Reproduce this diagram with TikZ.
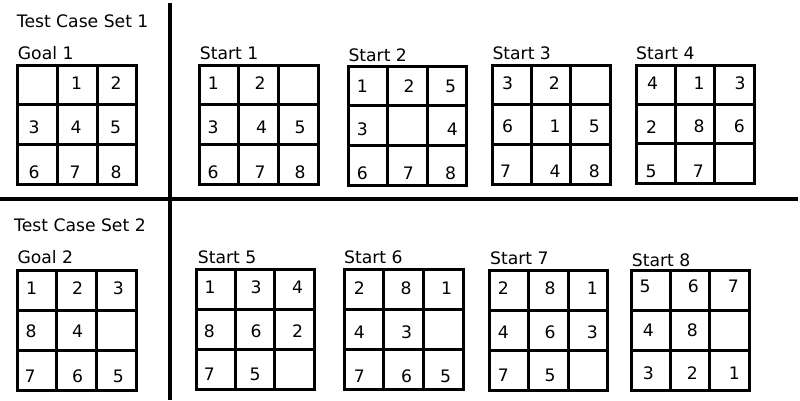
\documentclass[tikz,border=0pt]{standalone}
\usepackage{fontspec}
\setmainfont{DejaVu Sans}
\newcommand\puzzlegrid[4]{%
  \draw[gridline] (#1,#2) rectangle (#3,#4);
  \draw[gridline] ({#1+(#3-#1)/3},#2) -- ({#1+(#3-#1)/3},#4);
  \draw[gridline] ({#1+2*(#3-#1)/3},#2) -- ({#1+2*(#3-#1)/3},#4);
  \draw[gridline] (#1,{#2+(#4-#2)/3}) -- (#3,{#2+(#4-#2)/3});
  \draw[gridline] (#1,{#2+2*(#4-#2)/3}) -- (#3,{#2+2*(#4-#2)/3});
}
\begin{document}
\begin{tikzpicture}[x=1pt,y=-1pt,
  gridline/.style={line width=3pt},
  divider/.style={line width=4pt},
  lbl/.style={anchor=west, inner sep=0pt, font=\fontsize{17.2}{20}\selectfont},
  dig/.style={inner sep=0pt, font=\fontsize{17.2}{20}\selectfont}]
\useasboundingbox[fill=white] (0,0) rectangle (800,400);

% dividers
\coordinate (vtop) at (170,3);
\coordinate (vbot) at (170,400);
\coordinate (hl) at (0,199);
\coordinate (hr) at (798,199);
\draw[divider] (vtop) -- (vbot);
\draw[divider] (hl) -- (hr);

% titles
\node[lbl] (set1) at (16.7,21) {Test Case Set 1};
\node[lbl] (set2) at (14,225) {Test Case Set 2};

% labels row 1
\node[lbl] (lg1) at (17.7,53) {Goal 1};
\node[lbl] (ls1) at (199.7,53) {Start 1};
\node[lbl] (ls2) at (348.3,55) {Start 2};
\node[lbl] (ls3) at (492.3,53) {Start 3};
\node[lbl] (ls4) at (636,53) {Start 4};
% labels row 2
\node[lbl] (lg2) at (17.3,257) {Goal 2};
\node[lbl] (ls5) at (197.7,257) {Start 5};
\node[lbl] (ls6) at (344,257.3) {Start 6};
\node[lbl] (ls7) at (490,258) {Start 7};
\node[lbl] (ls8) at (631.7,260) {Start 8};

% grids
\puzzlegrid{17.7}{65}{136.7}{184}
\puzzlegrid{199}{65}{318}{184}
\puzzlegrid{348.3}{66}{466.7}{185.7}
\puzzlegrid{492.3}{65}{610}{184}
\puzzlegrid{636}{65}{754.3}{183}
\puzzlegrid{17.3}{270}{136}{390}
\puzzlegrid{196}{269.3}{314.3}{389.3}
\puzzlegrid{344}{269}{463.3}{389}
\puzzlegrid{489}{270}{607.7}{390.7}
\puzzlegrid{631}{270}{749.3}{390}

% Goal 1
\node[dig] (g1a) at (76.7,83) {1};
\node[dig] (g1b) at (116,83) {2};
\node[dig] (g1c) at (34,127) {3};
\node[dig] (g1d) at (76,127) {4};
\node[dig] (g1e) at (115.7,127) {5};
\node[dig] (g1f) at (34,172) {6};
\node[dig] (g1g) at (75,172) {7};
\node[dig] (g1h) at (116,172) {8};
% Start 1
\node[dig] (s1a) at (213.3,83) {1};
\node[dig] (s1b) at (260,83) {2};
\node[dig] (s1c) at (213,127) {3};
\node[dig] (s1d) at (261.7,127) {4};
\node[dig] (s1e) at (300,127) {5};
\node[dig] (s1f) at (213,172) {6};
\node[dig] (s1g) at (260,172) {7};
\node[dig] (s1h) at (300,172) {8};
% Start 2
\node[dig] (s2a) at (362.3,86) {1};
\node[dig] (s2b) at (409,86) {2};
\node[dig] (s2c) at (450.7,86) {5};
\node[dig] (s2d) at (362.3,129) {3};
\node[dig] (s2e) at (452.3,129) {4};
\node[dig] (s2f) at (362.3,173.3) {6};
\node[dig] (s2g) at (408.3,173.3) {7};
\node[dig] (s2h) at (450.7,173.3) {8};
% Start 3
\node[dig] (s3a) at (507.7,83.3) {3};
\node[dig] (s3b) at (554.3,83.3) {2};
\node[dig] (s3c) at (507.7,126.7) {6};
\node[dig] (s3d) at (555,126.7) {1};
\node[dig] (s3e) at (594.3,126.7) {5};
\node[dig] (s3f) at (505.7,171) {7};
\node[dig] (s3g) at (555,171) {4};
\node[dig] (s3h) at (594.3,171) {8};
% Start 4
\node[dig] (s4a) at (652.7,83.3) {4};
\node[dig] (s4b) at (699,83.3) {1};
\node[dig] (s4c) at (740,83.3) {3};
\node[dig] (s4d) at (651.7,126.7) {2};
\node[dig] (s4e) at (699,126.7) {8};
\node[dig] (s4f) at (739.3,126.7) {6};
\node[dig] (s4g) at (651,171) {5};
\node[dig] (s4h) at (698.3,171) {7};
% Goal 2
\node[dig] (g2a) at (31.7,288.3) {1};
\node[dig] (g2b) at (77.7,288.3) {2};
\node[dig] (g2c) at (118.3,288.3) {3};
\node[dig] (g2d) at (31,331.7) {8};
\node[dig] (g2e) at (77.7,331.7) {4};
\node[dig] (g2f) at (30,376.7) {7};
\node[dig] (g2g) at (77.7,376.7) {6};
\node[dig] (g2h) at (118.3,376.7) {5};
% Start 5
\node[dig] (s5a) at (210,287.3) {1};
\node[dig] (s5b) at (256,287.3) {3};
\node[dig] (s5c) at (297.7,287.3) {4};
\node[dig] (s5d) at (209.3,331) {8};
\node[dig] (s5e) at (256,331) {6};
\node[dig] (s5f) at (297.7,331) {2};
\node[dig] (s5g) at (209.3,374.3) {7};
\node[dig] (s5h) at (255,374.3) {5};
% Start 6
\node[dig] (s6a) at (359.3,288.3) {2};
\node[dig] (s6b) at (406,288.3) {8};
\node[dig] (s6c) at (446.7,288.3) {1};
\node[dig] (s6d) at (359.3,332.3) {4};
\node[dig] (s6e) at (406.7,332.3) {3};
\node[dig] (s6f) at (359.3,376.7) {7};
\node[dig] (s6g) at (406.7,376.7) {6};
\node[dig] (s6h) at (445.7,376.7) {5};
% Start 7
\node[dig] (s7a) at (503.3,288.3) {2};
\node[dig] (s7b) at (550,288.3) {8};
\node[dig] (s7c) at (592.3,288.3) {1};
\node[dig] (s7d) at (503.3,332.3) {4};
\node[dig] (s7e) at (550,332.3) {6};
\node[dig] (s7f) at (592.3,332.3) {3};
\node[dig] (s7g) at (503.3,375) {7};
\node[dig] (s7h) at (550,375) {5};
% Start 8
\node[dig] (s8a) at (645,286.7) {5};
\node[dig] (s8b) at (693.3,286.7) {6};
\node[dig] (s8c) at (733.3,286.7) {7};
\node[dig] (s8d) at (648.3,330) {4};
\node[dig] (s8e) at (692.3,330) {8};
\node[dig] (s8f) at (648.3,373.3) {3};
\node[dig] (s8g) at (692.3,373.3) {2};
\node[dig] (s8h) at (734.3,373.3) {1};
\end{tikzpicture}
\end{document}
